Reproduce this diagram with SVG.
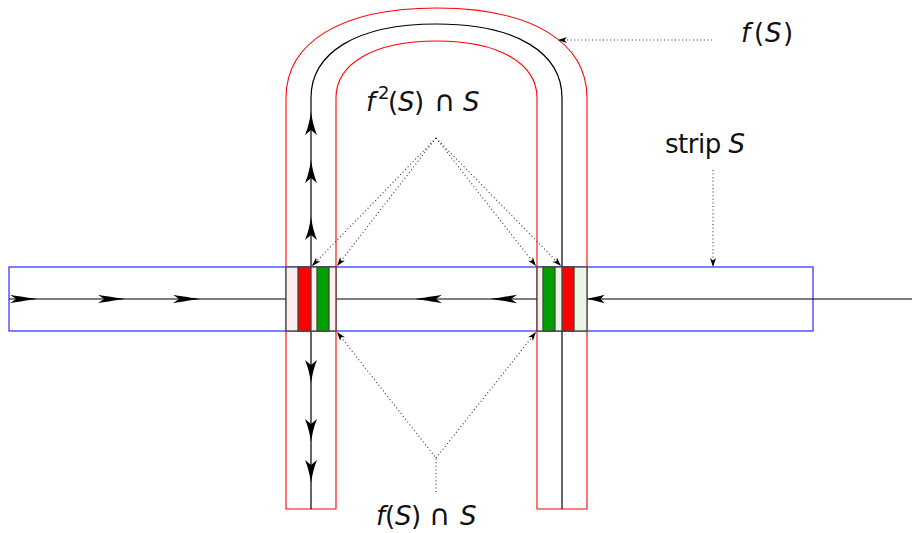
<svg xmlns="http://www.w3.org/2000/svg" width="912" height="533" viewBox="0 0 912 533">
<style>
.red{fill:none;stroke:#ff0000;stroke-width:1.1}
.blk{fill:none;stroke:#000;stroke-width:1.2}
.dot{fill:none;stroke:#333;stroke-width:1.1;stroke-dasharray:1 2.6}
.box{stroke:#444;stroke-width:1.3}
.lbl{font-family:"DejaVu Sans",sans-serif;font-size:26px;fill:#111}
.it{font-style:italic}
.cap{font-size:29px}
</style>
<defs>
<path id="ah" d="M0,0 C-7,-1 -18,-2.5 -27,-4.2 L-21,0 L-27,4.2 C-18,2.5 -7,1 0,0 Z" fill="#000"/>
<path id="av" d="M0,0 C-1,7 -3,16 -6,23 L0,18 L6,23 C3,16 1,7 0,0 Z" fill="#000"/>
<marker id="lh" viewBox="-10 -4 11 8" refX="0" refY="0" markerWidth="11" markerHeight="8" orient="auto" markerUnits="userSpaceOnUse">
<path d="M0,0 L-9,-3 L-6.5,0 L-9,3 Z" fill="#000"/>
</marker>
</defs>
<rect width="912" height="533" fill="#fff"/>

<g id="strip">
<rect x="9" y="267" width="804" height="64" fill="none" stroke="#3a3aff" stroke-width="1.3"/>
</g>

<g id="fS">
<path class="red" d="M286,509 L286,98 C286,43 340,8 436.5,8 C533,8 587,43 587,98 L587,509 L537,509 L537,98 C537,64 500,41 436.5,41 C373,41 336,64 336,98 L336,509 Z"/>
</g>

<g id="connectors">
<path class="blk" d="M311,509 L311,98 C311,53 356,24 436.5,24 C517,24 562,53 562,98 L562,509"/>
<line class="blk" x1="9" y1="299" x2="912" y2="299"/>
<use href="#ah" transform="translate(37,299)"/>
<use href="#ah" transform="translate(125,299)"/>
<use href="#ah" transform="translate(200,299)"/>
<use href="#ah" transform="translate(415,299) rotate(180)"/>
<use href="#ah" transform="translate(490,299) rotate(180)"/>
<use href="#ah" transform="translate(587,299) rotate(180) scale(0.65,1)"/>
<use href="#av" transform="translate(311,112)"/>
<use href="#av" transform="translate(311,160)"/>
<use href="#av" transform="translate(311,217)"/>
<use href="#av" transform="translate(311,383) scale(1,-1)"/>
<use href="#av" transform="translate(311,442) scale(1,-1)"/>
<use href="#av" transform="translate(311,483) scale(1,-1)"/>

<line class="dot" x1="712" y1="40" x2="558" y2="40" marker-end="url(#lh)"/>
<line class="dot" x1="713" y1="170" x2="713" y2="267" marker-end="url(#lh)"/>
<line class="dot" x1="436" y1="138" x2="312" y2="266" marker-end="url(#lh)"/>
<line class="dot" x1="436" y1="138" x2="337" y2="266" marker-end="url(#lh)"/>
<line class="dot" x1="436" y1="138" x2="536" y2="266" marker-end="url(#lh)"/>
<line class="dot" x1="436" y1="138" x2="561" y2="266" marker-end="url(#lh)"/>
<polyline class="dot" points="436,492 436,458 337,332" marker-end="url(#lh)"/>
<line class="dot" x1="436" y1="458" x2="536" y2="332" marker-end="url(#lh)"/>
</g>

<g id="box-left">
<rect class="box" x="286" y="267" width="50" height="64" fill="#fdeeee"/>
<rect class="box" x="298" y="267" width="13" height="64" fill="#ff0000"/>
<rect class="box" x="317" y="267" width="12" height="64" fill="#00a000"/>
</g>

<g id="box-right">
<rect class="box" x="537" y="267" width="50" height="64" fill="#e8f5e4"/>
<rect class="box" x="543" y="267" width="12" height="64" fill="#00a000"/>
<rect class="box" x="562" y="267" width="12" height="64" fill="#ff0000"/>
</g>

<g id="label-fS">
<text class="lbl"><tspan class="it" x="741" y="42">f</tspan><tspan x="754" y="42">(</tspan><tspan class="it" x="765" y="42">S</tspan><tspan x="783" y="42">)</tspan></text>
</g>

<g id="label-strip">
<text class="lbl" x="665" y="153" textLength="80" lengthAdjust="spacing">strip <tspan class="it">S</tspan></text>
</g>

<g id="label-f2S">
<text class="lbl"><tspan class="it" x="366" y="111">f</tspan><tspan font-size="18" x="378" y="99">2</tspan><tspan x="388" y="111">(</tspan><tspan class="it" x="398" y="111">S</tspan><tspan x="414" y="111">)</tspan><tspan class="cap" x="434" y="111">∩</tspan><tspan class="it" x="463" y="111">S</tspan></text>
</g>

<g id="label-fSS">
<text class="lbl"><tspan class="it" x="376" y="525">f</tspan><tspan x="385" y="525">(</tspan><tspan class="it" x="395" y="525">S</tspan><tspan x="411" y="525">)</tspan><tspan class="cap" x="429" y="525">∩</tspan><tspan class="it" x="460" y="525">S</tspan></text>
</g>
</svg>
